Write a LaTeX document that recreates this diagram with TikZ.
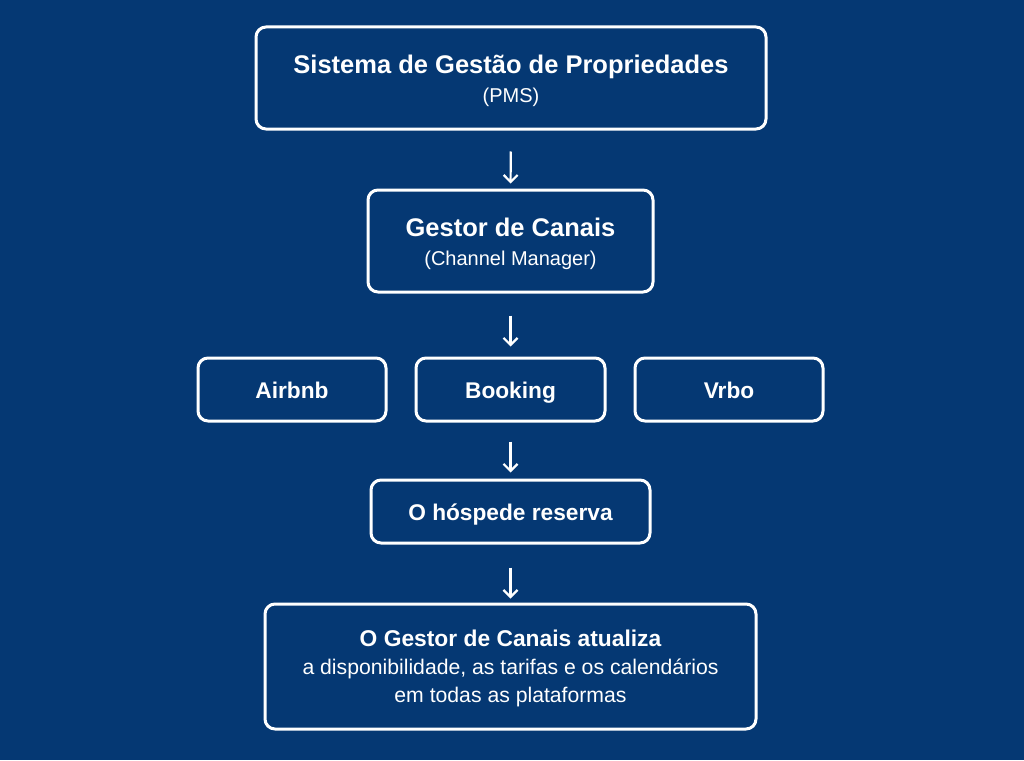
\documentclass[tikz,border=0pt]{standalone}
\usepackage{fontspec}
\setmainfont{Liberation Sans}
\usetikzlibrary{arrows.meta}
\definecolor{bgblue}{RGB}{5,56,115}
\begin{document}
\begin{tikzpicture}[x=1pt,y=-1pt,
  box/.style={draw=white,line width=3pt,rounded corners=10pt,text=white,align=center,inner sep=0pt,
    font=\fontsize{20}{29}\selectfont},
  ttl/.style={font=\bfseries\fontsize{22.7}{28}\selectfont,text height=17pt,text depth=0pt},
  flow/.style={draw=white,line width=2.2pt,-{Straight Barb[length=7pt,width=14pt,line width=2.2pt]}}]
\fill[bgblue] (0,0) rectangle (1024,760);
\useasboundingbox (0,0) rectangle (1024,760);
\node[box,minimum width=510pt,minimum height=102pt] (pms) at (511,78)
  {\rule{0pt}{24.5pt}{\bfseries\fontsize{25.5}{29}\selectfont Sistema de Gestão de Propriedades}\\(PMS)};
\node[box,minimum width=285pt,minimum height=102pt] (cm) at (510.5,241)
  {\rule{0pt}{25pt}{\bfseries\fontsize{25.5}{29}\selectfont Gestor de Canais}\\(Channel Manager)};
\node[box,ttl,minimum width=188pt,minimum height=63pt] (air) at (292,389.5) {Airbnb};
\node[box,ttl,minimum width=189pt,minimum height=63pt] (book) at (510.5,389.5) {Booking};
\node[box,ttl,minimum width=188pt,minimum height=63pt] (vrbo) at (729,389.5) {Vrbo};
\node[box,ttl,minimum width=279pt,minimum height=63pt] (hosp) at (510.5,511.5) {O hóspede reserva};
\node[box,minimum width=491pt,minimum height=125pt,font=\fontsize{21.2}{28}\selectfont] (upd) at (510.5,666.5)
  {\rule{0pt}{21pt}{\bfseries\fontsize{22.8}{28}\selectfont O Gestor de Canais atualiza}\\a disponibilidade, as tarifas e os calendários\\em todas as plataformas};
\draw[flow,shorten <=21pt,shorten >=5pt] (pms.south) -- (cm.north);
\draw[flow,shorten <=22pt,shorten >=10pt] (cm.south) -- (book.north);
\draw[flow,shorten <=19pt,shorten >=6pt] (book.south) -- (hosp.north);
\draw[flow,shorten <=23pt,shorten >=4pt] (hosp.south) -- (upd.north);
\end{tikzpicture}
\end{document}
